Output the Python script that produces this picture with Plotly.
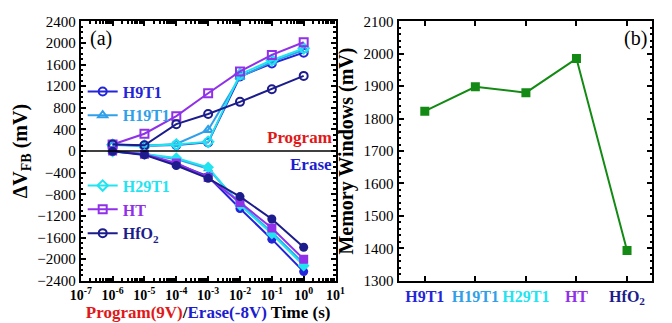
import plotly.graph_objects as go

times = [1e-6, 1e-5, 1e-4, 1e-3, 1e-2, 1e-1, 1e0]
names = ["H9T1", "H19T1", "H29T1", "HT", "HfO2"]
labels = ["H9T1", "H19T1", "H29T1", "HT", "HfO<sub>2</sub>"]
colors = ["#2424d8", "#30a0e8", "#22e4f0", "#9030e8", "#1c1c8c"]
symbols = ["circle", "triangle-up", "diamond", "square", "circle"]

program = {
    "H9T1":  [120, 100, 110, 160, 1380, 1620, 1820],
    "H19T1": [110, 100, 130, 390, 1370, 1650, 1870],
    "H29T1": [115, 100, 120, 170, 1420, 1680, 1900],
    "HT":    [120, 320, 646, 1068, 1473, 1778, 2012],
    "HfO2":  [120, 105, 498, 686, 910, 1144, 1390],
}
erase = {
    "H9T1":  [-5, -60, -240, -470, -1063, -1630, -2230],
    "H19T1": [-10, -55, -150, -330, -980, -1500, -2080],
    "H29T1": [-10, -55, -130, -300, -1000, -1530, -2120],
    "HT":    [0, -60, -220, -490, -950, -1424, -2000],
    "HfO2":  [-5, -71, -267, -505, -843, -1258, -1780],
}

mw_cats = ["H9T1", "H19T1", "H29T1", "HT", "HfO2"]
mw_vals = [1823, 1898, 1880, 1985, 1393]

xtick_vals = [1e-7, 1e-6, 1e-5, 1e-4, 1e-3, 1e-2, 1e-1, 1e0, 1e1]
xtick_text = ["10<sup>-7</sup>", "10<sup>-6</sup>", "10<sup>-5</sup>", "10<sup>-4</sup>",
              "10<sup>-3</sup>", "10<sup>-2</sup>", "10<sup>-1</sup>", "10<sup>0</sup>", "10<sup>1</sup>"]

FONT = "Liberation Serif"
fig = go.Figure()

for i, n in enumerate(names):
    leg = "legend" if i < 2 else "legend2"
    fig.add_trace(go.Scatter(
        x=times, y=program[n], mode="lines+markers",
        name=f"<b><span style='color:{colors[i]}'>{labels[i]}</span></b>",
        line=dict(color=colors[i], width=2),
        marker=dict(symbol=symbols[i] + "-open", size=8, color=colors[i], line=dict(width=2, color=colors[i])),
        xaxis="x", yaxis="y", legend=leg, showlegend=True))
for i, n in enumerate(names):
    fig.add_trace(go.Scatter(
        x=times, y=erase[n], mode="lines+markers",
        line=dict(color=colors[i], width=2),
        marker=dict(symbol=symbols[i], size=9, color=colors[i]),
        xaxis="x", yaxis="y", showlegend=False))

fig.add_trace(go.Scatter(
    x=mw_cats, y=mw_vals, mode="lines+markers",
    line=dict(color="#138a13", width=2),
    marker=dict(symbol="square", size=9, color="#138a13"),
    xaxis="x2", yaxis="y2", showlegend=False))

tickfont = dict(family=FONT, size=15, color="black")
common = dict(showline=True, linecolor="black", linewidth=2, mirror="allticks",
              ticks="inside", ticklen=5, tickwidth=1.5, tickcolor="black",
              showgrid=False, zeroline=False)

ydom = [1 - 287 / 323, 1 - 14 / 323]

fig.update_layout(
    width=672, height=323,
    margin=dict(l=0, r=0, t=0, b=0),
    paper_bgcolor="white", plot_bgcolor="white",
    font=dict(family=FONT, color="black"),
    xaxis=dict(domain=[72 / 672, 335 / 672], type="log", range=[-7, 1],
               tickvals=xtick_vals, ticktext=[f"<b>{t}</b>" for t in xtick_text],
               tickfont=dict(family=FONT, size=14, color="black"),
               minor=dict(ticks="inside", ticklen=2.5, tickcolor="black", dtick="D1"),
               title=dict(text="<b><span style='color:#e01818'>Program(9V)</span>/<span style='color:#1c1cd0'>Erase(-8V)</span> Time (s)</b>",
                          font=dict(family=FONT, size=17), standoff=0),
               anchor="y", **common),
    yaxis=dict(domain=ydom, range=[-2400, 2400], dtick=400,
               tickformat="d", tickfont=tickfont,
               minor=dict(ticks="inside", ticklen=2.5, tickcolor="black", dtick=100),
               title=dict(text="<b>ΔV<sub>FB</sub> (mV)</b>", font=dict(family=FONT, size=20), standoff=4),
               anchor="x", **common),
    xaxis2=dict(domain=[400 / 672, 662 / 672], type="category", range=[-0.52, 4.5],
                tickvals=mw_cats, tickangle=0, tickfont=dict(family=FONT, size=16, color="black"),
                ticktext=[f"<b><span style='color:{c}'>{l}</span></b>" for c, l in zip(colors, labels)],
                anchor="y2", **common),
    yaxis2=dict(domain=ydom, range=[1300, 2100], dtick=100, tickfont=tickfont,
                minor=dict(ticks="inside", ticklen=2.5, tickcolor="black", dtick=20),
                title=dict(text="<b>Memory Windows (mV)</b>", font=dict(family=FONT, size=20), standoff=4),
                anchor="x2", **common),
    legend=dict(x=74 / 672, y=1 - 70 / 323, xanchor="left", yanchor="top",
                bgcolor="rgba(0,0,0,0)", font=dict(family=FONT, size=16),
                itemwidth=30, tracegroupgap=0),
    legend2=dict(x=74 / 672, y=1 - 169 / 323, xanchor="left", yanchor="top",
                 bgcolor="rgba(0,0,0,0)", font=dict(family=FONT, size=16),
                 itemwidth=30, tracegroupgap=0),
    shapes=[dict(type="line", xref="x domain", yref="y", x0=0, x1=1, y0=0, y1=0,
                 line=dict(color="black", width=1.5))],
    annotations=[
        dict(text="(a)", x=0.03, y=0.985, xref="x domain", yref="y domain",
             xanchor="left", yanchor="top", showarrow=False, font=dict(family=FONT, size=20)),
        dict(text="(b)", x=0.985, y=0.985, xref="x2 domain", yref="y2 domain",
             xanchor="right", yanchor="top", showarrow=False, font=dict(family=FONT, size=20)),
        dict(text="<b>Program</b>", x=0.995, y=30, xref="x domain", yref="y",
             xanchor="right", yanchor="bottom", showarrow=False,
             font=dict(family=FONT, size=17, color="#e01818")),
        dict(text="<b>Erase</b>", x=0.995, y=-30, xref="x domain", yref="y",
             xanchor="right", yanchor="top", showarrow=False,
             font=dict(family=FONT, size=17, color="#1c1cd0")),
    ],
)

fig.write_html("out.html", config={"displayModeBar": False},
               post_script="document.body.style.margin='0px';")
